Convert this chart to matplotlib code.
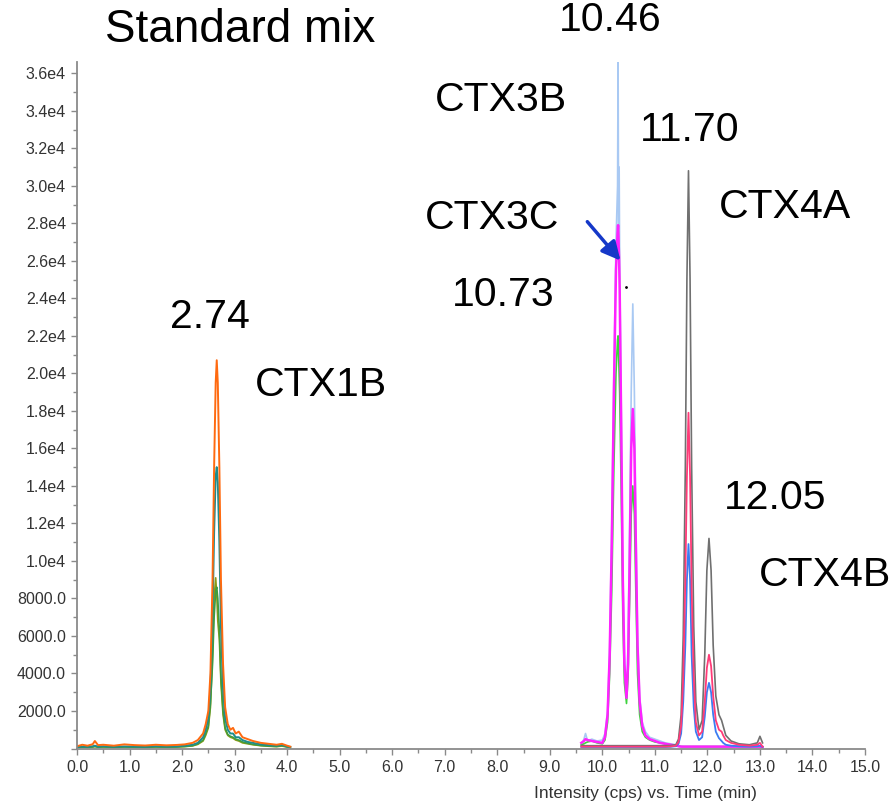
import matplotlib.pyplot as plt
import numpy as np
from matplotlib.ticker import MultipleLocator, FuncFormatter

plt.rcParams['font.family'] = ['Liberation Sans', 'DejaVu Sans']

# --- CTX1B group (0 - 4.1 min) ---
t_left = [0.0, 0.1, 0.2, 0.3, 0.34, 0.4, 0.5, 0.7, 0.9, 1.1, 1.3, 1.5, 1.7, 1.9,
          2.05, 2.2, 2.3, 2.4, 2.45, 2.5, 2.54, 2.58, 2.61, 2.64, 2.66, 2.68, 2.71, 2.74, 2.78,
          2.82, 2.87, 2.92, 2.97, 3.02, 3.08, 3.15, 3.25, 3.35, 3.5, 3.65, 3.8, 3.9, 4.0, 4.06]
orange = [120, 200, 150, 230, 400, 180, 200, 150, 220, 180, 160, 200, 170, 190,
          220, 300, 450, 800, 1300, 2000, 4000, 9000, 15000, 19500, 20700, 19500, 15000, 9000, 4500,
          2200, 1300, 1000, 1100, 800, 900, 600, 500, 400, 300, 250, 200, 250, 150, 100]
teal = [80, 100, 90, 120, 150, 100, 120, 90, 110, 100, 90, 120, 100, 110,
        150, 200, 300, 600, 1000, 1600, 3200, 7000, 11500, 14500, 15000, 14200, 11000, 6500, 3200,
        1600, 1000, 800, 800, 600, 600, 450, 350, 300, 220, 180, 150, 200, 100, 80]
green_l = [60, 80, 70, 90, 120, 80, 90, 70, 90, 80, 70, 90, 80, 90,
           110, 150, 250, 450, 800, 1200, 2400, 4500, 7000, 8400, 8600, 8000, 6300, 3800, 2000,
           1100, 750, 650, 600, 500, 450, 350, 280, 220, 160, 130, 110, 150, 90, 60]
olive = [50, 70, 60, 80, 100, 70, 80, 60, 80, 70, 60, 80, 70, 80,
         100, 140, 220, 400, 700, 1100, 2200, 5000, 8000, 9100, 8200, 6800, 5800, 3500, 1800,
         1000, 700, 600, 550, 450, 400, 300, 250, 200, 150, 120, 100, 130, 80, 50]

# --- CTX3B / CTX3C / CTX4A / CTX4B group (9.6 - 13.05 min) ---
t_right = [9.6, 9.65, 9.68, 9.72, 9.8, 9.9,
           10.0, 10.05, 10.1, 10.14, 10.18, 10.22, 10.26, 10.29, 10.3, 10.31, 10.32, 10.33, 10.36,
           10.39, 10.42, 10.46, 10.49, 10.52, 10.55, 10.58, 10.61, 10.64, 10.67, 10.71, 10.76, 10.82, 10.9,
           11.0, 11.1, 11.2, 11.3, 11.4, 11.45, 11.5, 11.54, 11.58, 11.61, 11.64, 11.67, 11.7, 11.74,
           11.78, 11.84, 11.9, 11.95, 11.99,
           12.03, 12.07, 12.11, 12.16, 12.22, 12.27, 12.3, 12.35, 12.45, 12.6, 12.8, 12.95,
           13.0, 13.05]
light_blue = [200, 500, 800, 400, 500, 400,
              450, 800, 2000, 5500, 12000, 20000, 27000, 30000, 36700, 27000, 31000, 26000, 18000,
              9500, 5000, 3100, 5500, 12000, 19000, 23700, 19000, 12000, 6000, 2800, 1400, 900, 600,
              500, 400, 300, 250, 200, 150, 120, 100, 100, 100, 100, 100, 100, 100,
              100, 100, 100, 100, 100,
              100, 100, 100, 100, 100, 100, 100, 100, 100, 100, 100, 100,
              100, 80]
magenta = [300, 400, 500, 450, 400, 350,
           300, 600, 1800, 5000, 11000, 19000, 25500, 27500, 27900, 27000, 26000, 24500, 17000,
           9000, 4500, 2700, 4500, 10000, 16000, 18100, 16000, 10500, 5500, 2500, 1200, 700, 500,
           400, 300, 250, 200, 150, 120, 100, 100, 100, 100, 100, 100, 100, 100,
           100, 100, 100, 100, 100,
           100, 100, 100, 100, 100, 100, 100, 100, 100, 100, 100, 100,
           100, 80]
green_r = [200, 250, 300, 350, 400, 300,
           250, 450, 1400, 4000, 8500, 15000, 20000, 21800, 22000, 21000, 20000, 19000, 13500,
           7000, 3500, 2400, 3800, 8000, 12500, 14000, 12500, 8000, 4000, 1800, 900, 600, 450,
           350, 300, 250, 200, 150, 120, 100, 100, 100, 100, 100, 100, 100, 100,
           100, 100, 100, 100, 100,
           100, 100, 100, 100, 100, 100, 100, 100, 100, 100, 100, 100,
           100, 80]
gray = [150, 150, 150, 150, 150, 150,
        150, 150, 150, 150, 150, 150, 150, 150, 150, 150, 150, 150, 150,
        150, 150, 150, 150, 150, 150, 150, 150, 150, 150, 150, 150, 150, 150,
        150, 150, 150, 160, 200, 500, 1800, 6000, 15000, 25000, 30800, 25000, 15000, 6500,
        2500, 1000, 1500, 5000, 9500,
        11200, 9500, 5500, 2800, 1800, 1500, 1200, 700, 400, 250, 200, 300,
        650, 300]
red = [100, 100, 100, 100, 100, 100,
       100, 100, 100, 100, 100, 100, 100, 100, 100, 100, 100, 100, 100,
       100, 100, 100, 100, 100, 100, 100, 100, 100, 100, 100, 100, 100, 100,
       100, 100, 100, 110, 150, 350, 1200, 3800, 9000, 14500, 17900, 14500, 8500, 3800,
       1400, 700, 900, 2500, 4300,
       5000, 4400, 2800, 1500, 1000, 900, 700, 450, 300, 200, 150, 200,
       300, 100]
blue = [80, 80, 80, 80, 80, 80,
        80, 80, 80, 80, 80, 80, 80, 80, 80, 80, 80, 80, 80,
        80, 80, 80, 80, 80, 80, 80, 80, 80, 80, 80, 80, 80, 80,
        80, 80, 80, 90, 120, 250, 800, 2500, 5500, 9000, 10900, 9000, 5000, 2200,
        900, 450, 600, 1700, 3000,
        3500, 3000, 1800, 900, 550, 400, 300, 200, 150, 120, 100, 120,
        150, 80]

# annotations: (text, x pixel centre, y pixel centre, size)
labels = [('Standard mix', 240, 30, 33), ('10.46', 610, 20, 29.5), ('CTX3B', 501, 100, 29.5),
          ('11.70', 690, 130, 29.5), ('CTX3C', 492, 218, 29.5), ('CTX4A', 785, 207, 29.5),
          ('10.73', 503, 295, 29.5), ('2.74', 210, 317, 29.5), ('CTX1B', 321, 385, 29.5),
          ('12.05', 775, 498, 29.5), ('CTX4B', 825, 575, 29.5)]

W, H = 896, 808
fig = plt.figure(figsize=(W / 100, H / 100), dpi=100)
ax = fig.add_axes([77 / W, (H - 748.5) / H, (865 - 77) / W, (748.5 - 62) / H])

ax.plot(t_left, olive, color='#8c9a14', lw=1.2)
ax.plot(t_left, green_l, color='#3f9c3f', lw=1.2)
ax.plot(t_left, teal, color='#1f8c8c', lw=1.4)
ax.plot(t_left, orange, color='#ff6a10', lw=1.4)

ax.plot(t_right, light_blue, color='#a9c9f3', lw=1.2)
ax.plot(t_right, green_r, color='#3ed23e', lw=1.2)
ax.plot(t_right, magenta, color='#ff22ff', lw=1.8)
ax.plot(t_right, gray, color='#707070', lw=1.2)
ax.plot(t_right, blue, color='#3b7cf2', lw=1.3)
ax.plot(t_right, red, color='#ff3b78', lw=1.3)

ax.set_xlim(0, 15)
ax.set_ylim(0, 36600)

ax.xaxis.set_major_locator(MultipleLocator(1.0))
ax.xaxis.set_minor_locator(MultipleLocator(0.5))
ax.yaxis.set_major_locator(MultipleLocator(2000))
ax.yaxis.set_minor_locator(MultipleLocator(1000))


def yfmt(v, pos):
    if v < 1:
        return ''
    if v >= 10000:
        return '%.1fe4' % (v / 1e4)
    return '%.1f' % v


ax.yaxis.set_major_formatter(FuncFormatter(yfmt))
ax.xaxis.set_major_formatter(FuncFormatter(lambda v, p: '%.1f' % v))

for side in ['top', 'right']:
    ax.spines[side].set_visible(False)
for side in ['left', 'bottom']:
    ax.spines[side].set_color('#8a8a8a')
    ax.spines[side].set_linewidth(1.3)

ax.tick_params(which='both', direction='out', color='#8a8a8a', width=1,
               labelsize=11.5, labelcolor='#333333')
ax.tick_params(which='major', length=4, pad=4)
ax.tick_params(which='minor', length=3)

ax.set_xlabel('Intensity (cps) vs. Time (min)', fontsize=12.5, color='#333333',
              labelpad=8, x=0.722)

for txt, px, py, fs in labels:
    fig.text(px / W, 1 - py / H, txt, fontsize=fs, ha='center', va='center', color='black')

# arrow pointing at CTX3C peak
ax.annotate('', xy=(10.38, 25900), xytext=(9.68, 28200),
            arrowprops=dict(arrowstyle='-|>', color='#1538c8', lw=2.5, mutation_scale=28),
            annotation_clip=False)
ax.plot([10.46], [24600], marker='.', color='black', ms=2)

plt.savefig('out.png', dpi=100)
plt.close()
